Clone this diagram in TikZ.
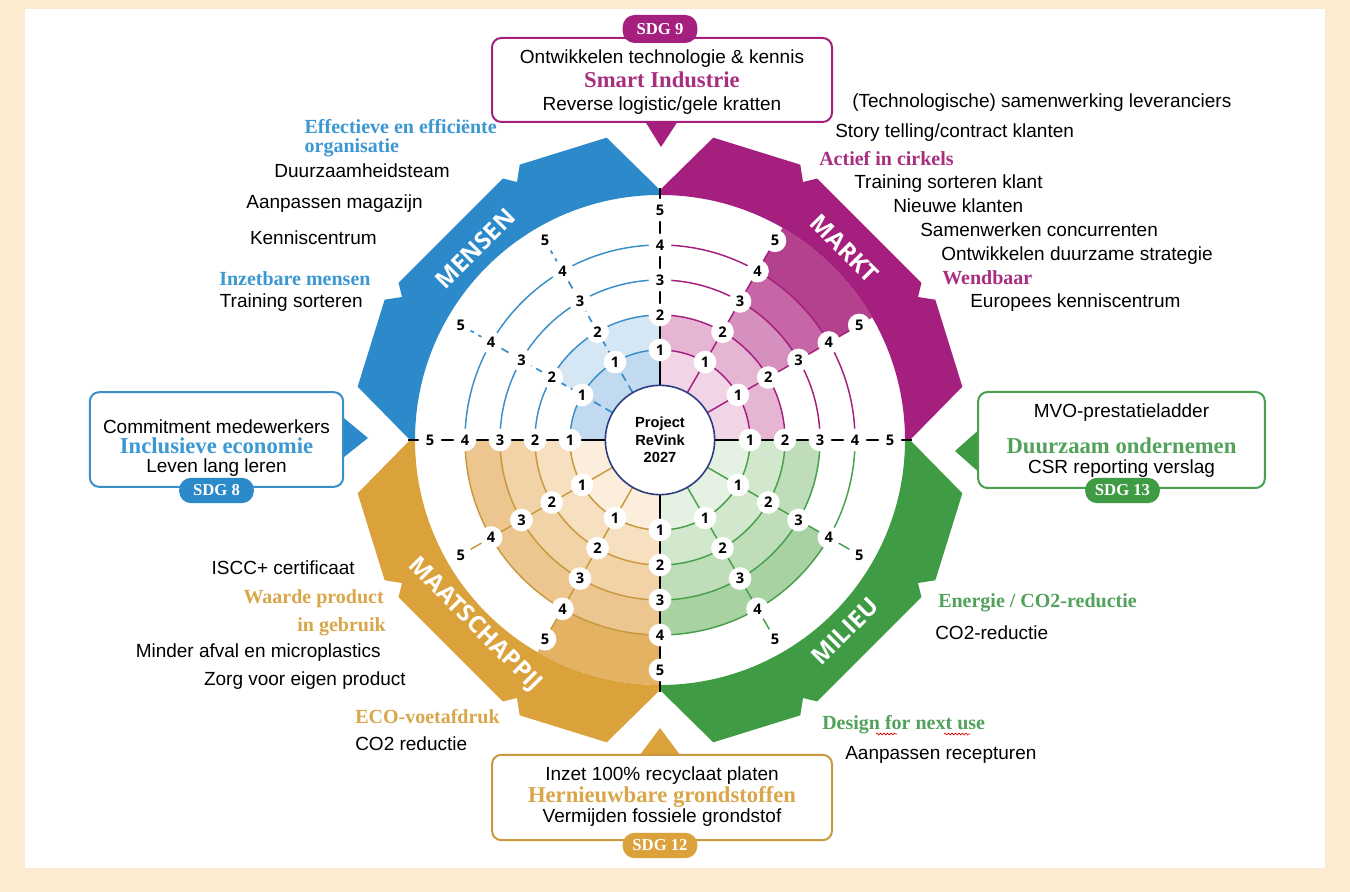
\documentclass[tikz,border=0pt]{standalone}
\usepackage{fontspec}
\usetikzlibrary{calc,decorations.pathmorphing}
\newfontfamily\bodyf{Liberation Sans}
\newfontfamily\labf{Open Sans}
\newfontfamily\headf{Liberation Serif}
\definecolor{beige}{HTML}{FCEBD0}
\definecolor{bband}{HTML}{2C8ACB}
\definecolor{bline}{HTML}{3B8FC9}
\definecolor{bone}{HTML}{C2DAEF}
\definecolor{btwo}{HTML}{D5E6F5}
\definecolor{bhead}{HTML}{3C98D2}
\definecolor{mband}{HTML}{A5207E}
\definecolor{mone}{HTML}{F2D4E7}
\definecolor{mtwo}{HTML}{E6B5D3}
\definecolor{mthree}{HTML}{D690BE}
\definecolor{mfour}{HTML}{C766A7}
\definecolor{mfive}{HTML}{B4418D}
\definecolor{mhead}{HTML}{A82F80}
\definecolor{gband}{HTML}{DBA13A}
\definecolor{gline}{HTML}{C9993F}
\definecolor{gone}{HTML}{FBEEDC}
\definecolor{gtwo}{HTML}{F6E0C0}
\definecolor{gthree}{HTML}{F1D3A7}
\definecolor{gfour}{HTML}{ECC68E}
\definecolor{gfive}{HTML}{E4B263}
\definecolor{ghead}{HTML}{D9A64A}
\definecolor{eband}{HTML}{3F9C45}
\definecolor{eline}{HTML}{48A04D}
\definecolor{eone}{HTML}{E5F1E2}
\definecolor{etwo}{HTML}{D2E8CD}
\definecolor{ethree}{HTML}{BEDDB8}
\definecolor{efour}{HTML}{A9D2A2}
\definecolor{ehead}{HTML}{52A25C}
\definecolor{navy}{HTML}{2E3D82}
\tikzset{
 body/.style={font=\bodyf\fontsize{14.25}{17}\selectfont, inner sep=0pt, text height=10.5pt, text depth=2.5pt},
 head/.style={font=\headf\bfseries\fontsize{17}{20}\selectfont, inner sep=0pt, text height=11.5pt, text depth=3.5pt},
 shead/.style={font=\headf\bfseries\fontsize{15}{17}\selectfont, inner sep=0pt, text height=10pt, text depth=3pt},
 num/.style={circle, fill=white, inner sep=0pt, minimum size=17pt, font=\labf\bfseries\fontsize{11}{13}\selectfont},
 bandlab/.style={font=\labf\bfseries\fontsize{18}{20}\selectfont, text=white, inner sep=0pt},
 sdgbox/.style={draw=#1, line width=1.5pt, fill=white, rounded corners=7pt},
 pill/.style={fill=#1, rounded corners=9pt, text=white, font=\headf\bfseries\fontsize{12.5}{14}\selectfont, minimum width=56pt, minimum height=19pt, inner sep=0pt},
 axisline/.style={line width=1.5pt, black},
 ringline/.style={#1, line width=1.1pt},
 squiggle/.style={red!85!black, line width=0.5pt, decorate, decoration={snake, amplitude=0.7pt, segment length=2.6pt}},
}
\newcommand\sect[4]{\fill[#1] (0,0) -- (#2:#4) arc[start angle=#2,end angle=#3,radius=#4] -- cycle;}
\newcommand\drawband[2]{\begin{scope}[rotate=#2]\fill[#1] (0:250) -- (10:307) -- (27:309) -- (29:295) -- (31:305) -- (59:305) -- (61:295) -- (63:309) -- (80:307) -- (90:250) -- (90:245) arc[start angle=90,end angle=0,radius=245] -- cycle;\end{scope}}
\newcommand\rings[3]{\foreach \rr in {90,125,160,195}{\draw[ringline=#1] (#2:\rr) arc[start angle=#2,end angle=#3,radius=\rr];}}
\begin{document}
\begin{tikzpicture}[x=0.75pt,y=0.75pt]
\useasboundingbox (0,0) rectangle (1350,892);
\fill[beige] (0,0) rectangle (1350,892);
\fill[white] (25,24) rectangle (1325,883);
% ---------------- radial chart ----------------
\begin{scope}[shift={(660,452)}]
 % radar fills
 \sect{mfive}{30}{60}{245}
 \sect{mfour}{30}{60}{195}
 \sect{mthree}{30}{60}{160}
 \sect{mtwo}{0}{90}{125}
 \sect{mone}{0}{90}{90}
 \sect{btwo}{90}{150}{125}
 \sect{bone}{90}{180}{90}
 \sect{gfive}{240}{270}{245}
 \sect{gfour}{180}{270}{195}
 \sect{gthree}{180}{270}{160}
 \sect{gtwo}{180}{270}{125}
 \sect{gone}{180}{270}{90}
 \sect{efour}{270}{330}{195}
 \sect{ethree}{270}{360}{160}
 \sect{etwo}{270}{360}{125}
 \sect{eone}{270}{360}{90}
 % outer bands
 \drawband{mband}{0}
 \drawband{bband}{90}
 \drawband{gband}{180}
 \drawband{eband}{270}
 % ring arcs
 \rings{mband}{0}{90}
 \rings{bline}{90}{180}
 \rings{gline}{180}{270}
 \rings{eline}{270}{360}
 % spokes
 \foreach \t in {30,60}{\draw[mband, line width=1.1pt] (\t:55) -- (\t:230);}
 \foreach \t in {120,150}{\draw[bline, line width=1.3pt, dash pattern=on 6pt off 4pt] (\t:55) -- (\t:230);}
 \foreach \t in {210,240}{\draw[gline, line width=1.1pt] (\t:55) -- (\t:230);}
 \foreach \t in {300,330}{\draw[eline, line width=1.1pt] (\t:55) -- (\t:230);}
 % axes
 \foreach \t in {0,90,180,270}{\draw[axisline] (\t:55) -- (\t:252);}
 % centre
 \node[circle, draw=navy, line width=1.2pt, fill=white, minimum size=82pt, align=center,
   font=\bodyf\bfseries\fontsize{11}{13}\selectfont] (ctr) at (0,0) {Project\\ReVink\\2027};
 % number markers
 \foreach \t in {0,30,...,330}{
   \foreach \k/\r in {1/90,2/125,3/160,4/195,5/230}{
     \node[num] (n\t-\k) at (\t:\r) {\k};
   }}
 % band labels
 \node[bandlab, rotate=-45] (lmarkt) at (46:266) {MARKT};
 \node[bandlab, rotate=45] (lmensen) at (134:266) {MENSEN};
 \node[bandlab, rotate=-45] (lmaat) at (225:262) {MAATSCHAPPIJ};
 \node[bandlab, rotate=45] (lmilieu) at (314:266) {MILIEU};
\end{scope}
% ---------------- texts and SDG boxes (image coordinates) ----------------
\begin{scope}[shift={(0,892)}, yscale=-1]
 % SDG 9
 \fill[mband] (643,118) -- (680,118) -- (661,147) -- cycle;
 \node[sdgbox=mband, minimum width=255pt, minimum height=63pt] (box9) at (662,80) {};
 \node[pill=mband, minimum height=21pt] (sdg9) at (660,29) {SDG 9};
 \node[body] (b9a) at (662,58) {Ontwikkelen technologie \& kennis};
 \node[head, text=mhead] (b9b) at (662,82) {Smart Industrie};
 \node[body] (b9c) at (662,105) {Reverse logistic/gele kratten};
 % SDG 8
 \fill[bband] (339,414) -- (339,461) -- (368,438) -- cycle;
 \node[sdgbox=bline, minimum width=190pt, minimum height=71pt] (box8) at (216.5,439.5) {};
 \node[pill=bband] (sdg8) at (216.5,490.5) {SDG 8};
 \node[body] (b8a) at (216.5,428) {Commitment medewerkers};
 \node[head, text=bhead] (b8b) at (216.5,448) {Inclusieve economie};
 \node[body] (b8c) at (216.5,467) {Leven lang leren};
 % SDG 13
 \fill[eband] (982,427) -- (982,475) -- (955,451) -- cycle;
 \node[sdgbox=eline, minimum width=215pt, minimum height=72pt] (box13) at (1121.5,440) {};
 \node[pill=eband] (sdg13) at (1122.5,490.5) {SDG 13};
 \node[body] (b13a) at (1121.5,412) {MVO-prestatieladder};
 \node[head, text=ehead] (b13b) at (1121.5,448) {Duurzaam ondernemen};
 \node[body] (b13c) at (1121.5,468) {CSR reporting verslag};
 % SDG 12
 \fill[gband] (637,759) -- (683,759) -- (660,728) -- cycle;
 \node[sdgbox=gline, minimum width=255pt, minimum height=64pt] (box12) at (662,797.5) {};
 \node[pill=gband] (sdg12) at (660,845.5) {SDG 12};
 \node[body] (b12a) at (662,775) {Inzet 100\% recyclaat platen};
 \node[head, text=ghead] (b12b) at (662,797) {Hernieuwbare grondstoffen};
 \node[body] (b12c) at (662,817) {Vermijden fossiele grondstof};
 % MENSEN side
 \node[shead, text=bhead, anchor=east] (h1) at (497,129) {Effectieve en efficiënte};
 \node[shead, text=bhead, anchor=west] (h1b) at (h1.west |- 0,148) {organisatie};
 \node[body, anchor=east] (t1) at (450,172) {Duurzaamheidsteam};
 \node[body, anchor=east] (t2) at (423,203) {Aanpassen magazijn};
 \node[body, anchor=east] (t3) at (377,239) {Kenniscentrum};
 \node[shead, text=bhead, anchor=west] (h2) at (219,281) {Inzetbare mensen};
 \node[body, anchor=east] (t4) at (363,302) {Training sorteren};
 % MARKT side
 \node[body, anchor=west] (r1) at (852,102) {(Technologische) samenwerking leveranciers};
 \node[body, anchor=west] (r2) at (835,132) {Story telling/contract klanten};
 \node[shead, text=mhead, anchor=west] (rh1) at (819,161) {Actief in cirkels};
 \node[body, anchor=west] (r3) at (854,183) {Training sorteren klant};
 \node[body, anchor=west] (r4) at (893,207) {Nieuwe klanten};
 \node[body, anchor=west] (r5) at (920,231) {Samenwerken concurrenten};
 \node[body, anchor=west] (r6) at (941,255) {Ontwikkelen duurzame strategie};
 \node[shead, text=mhead, anchor=west] (rh2) at (942,280) {Wendbaar};
 \node[body, anchor=west] (r7) at (970,302) {Europees kenniscentrum};
 % MAATSCHAPPIJ side
 \node[body, anchor=east] (l1) at (355,569) {ISCC+ certificaat};
 \node[shead, text=ghead, anchor=east] (lh1) at (384,599) {Waarde product};
 \node[shead, text=ghead, anchor=east] (lh1b) at (386,627) {in gebruik};
 \node[body, anchor=east] (l2) at (381,652) {Minder afval en microplastics};
 \node[body, anchor=east] (l3) at (406,680) {Zorg voor eigen product};
 \node[shead, text=ghead, anchor=west] (lh2) at (355,719) {ECO-voetafdruk};
 \node[body, anchor=west] (l4) at (355,745) {CO2 reductie};
 % MILIEU side
 \node[shead, text=ehead, anchor=west] (eh1) at (938,603) {Energie / CO2-reductie};
 \node[body, anchor=west] (e1) at (935,634) {CO2-reductie};
 \node[shead, text=ehead, anchor=west] (eh2) at (822,725) {Design for next use};
 \node[body, anchor=west] (e2) at (845,754) {Aanpassen recepturen};
 \draw[squiggle] (876,734) -- (897,734);
 \draw[squiggle] (944,734) -- (970,734);
\end{scope}
\end{tikzpicture}
\end{document}
